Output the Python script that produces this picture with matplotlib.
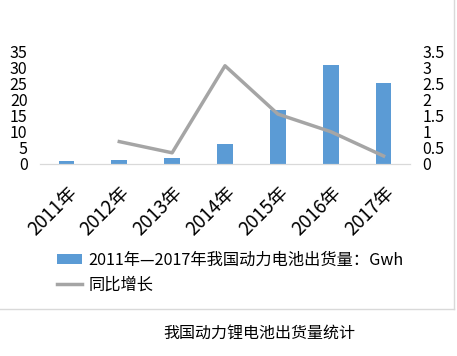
import matplotlib.pyplot as plt
from matplotlib.lines import Line2D
import numpy as np

plt.rcParams['font.family'] = ['Noto Sans CJK SC', 'DejaVu Sans']

# data
years = ['2011年', '2012年', '2013年', '2014年', '2015年', '2016年', '2017年']
shipments = [0.8, 1.3, 1.9, 6.3, 16.9, 31.0, 25.4]
growth = [np.nan, 0.70, 0.35, 3.07, 1.56, 1.01, 0.25]

bar_label = '2011年—2017年我国动力电池出货量：Gwh'
line_label = '同比增长'
title = '我国动力锂电池出货量统计'

W, H = 457, 356
fig = plt.figure(figsize=(W / 100, H / 100), dpi=100)
ax = fig.add_axes([40 / W, 1 - 164 / H, 370 / W, 112 / H])
ax2 = ax.twinx()

x = np.arange(len(years))
bars = ax.bar(x, shipments, width=0.3, color='#5B9BD5', label=bar_label, zorder=2)
line, = ax2.plot(x, growth, color='#A5A5A5', lw=2.5, label=line_label, zorder=3)

ax.set_xlim(-0.5, len(years) - 0.5)
ax.set_ylim(0, 35)
ax2.set_ylim(0, 3.5)
ax.set_yticks(np.arange(0, 36, 5))
ax2.set_yticks(np.arange(0, 3.6, 0.5))
ax2.set_yticklabels(['0', '0.5', '1', '1.5', '2', '2.5', '3', '3.5'])

ax.set_xticks(x)
ax.set_xticklabels(years, rotation=45, ha='right', rotation_mode='anchor', fontsize=13.5)

for a in (ax, ax2):
    for s in ('top', 'left', 'right'):
        a.spines[s].set_visible(False)
    a.spines['bottom'].set_color('#D9D9D9')
    a.tick_params(axis='y', length=0, labelsize=11.5, pad=9)
ax.tick_params(axis='x', length=0, pad=13)
ax2.set_zorder(ax.get_zorder() + 1)
ax2.patch.set_visible(False)

fig.legend(handles=[bars, line], labels=[bar_label, line_label],
           loc='upper left', bbox_to_anchor=(42 / W, 1 - 237 / H),
           frameon=False, fontsize=11.7, handlelength=1.55, handleheight=0.55,
           labelspacing=0.5, handletextpad=0.4)

# chart area border
fig.add_artist(Line2D([0, 454 / W], [1 - 309 / H, 1 - 309 / H], color='#D9D9D9', lw=1))
fig.add_artist(Line2D([454 / W, 454 / W], [1 - 309 / H, 1], color='#D9D9D9', lw=1))

fig.text(259 / W, 1 - 333 / H, title, ha='center', va='center', fontsize=11.5)

fig.savefig('out.png', dpi=100)
